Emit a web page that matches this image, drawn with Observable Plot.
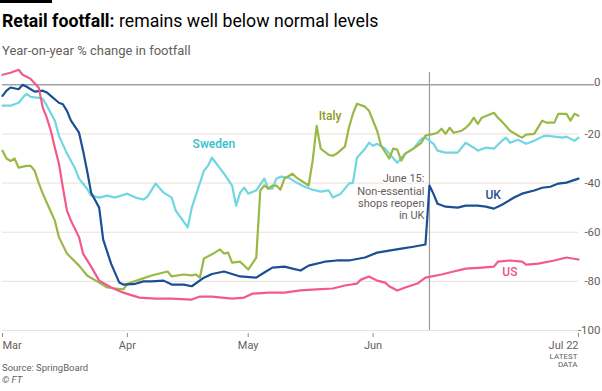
<!DOCTYPE html>
<html>
<head>
<meta charset="utf-8">
<script src="https://cdn.jsdelivr.net/npm/d3@7"></script>
<script src="https://cdn.jsdelivr.net/npm/@observablehq/plot@0.6"></script>
<style>
  html, body { margin: 0; padding: 0; background: #fff; }
  #wrap { position: relative; width: 602px; height: 391px; overflow: hidden; font-family: Roboto, "Noto Sans", sans-serif; }
  #bar { position: absolute; left: 0; top: 0; width: 52px; height: 3px; background: #000; }
  #title { position: absolute; left: 2px; top: 11px; font-size: 17.7px; line-height: 20px; color: #000; white-space: nowrap; }
  #title b { font-weight: 700; }
  #subtitle { position: absolute; left: 2px; top: 43px; font-size: 13px; line-height: 15px; color: #66605c; white-space: nowrap; }
  #chart { position: absolute; left: 0; top: 62px; }
  #caption { position: absolute; left: 2px; top: 362px; font-size: 9.5px; line-height: 12px; color: #66605c; }
  #caption i { font-style: italic; }
</style>
</head>
<body>
<div id="wrap">
  <div id="bar"></div>
  <div id="title"><b>Retail footfall:</b> remains well below normal levels</div>
  <div id="subtitle">Year-on-year % change in footfall</div>
  <div id="chart"></div>
  <div id="caption">Source: SpringBoard<br><i>© FT</i></div>
</div>
<script>
// Days counted from 1 March 2020; values are year-on-year % change in footfall
const ukDays = [0,1,2,4,5,6,7,8,10,11,12,14,15,16,17,19,20,21,22,24,25,27,29,30,33,35,37,40,42,45,47,50,52,55,57,59,63,65,67,70,72,74,76,80,83,86,90,93,96,99,102,105,106,107,108,110,113,115,118,120,122,124,127,129,132,134,136,138,140,143];
const ukValues = [-4.5,-2.4,-1.1,-1.8,0,-0.8,-1.8,-2.8,-2.4,-3.1,-4.5,-7.3,-7.9,-10.6,-14.6,-19.5,-26.8,-35,-43.9,-50,-63,-73,-80.5,-81.3,-81,-80,-80,-79.7,-81.3,-81.3,-82,-78.5,-77,-76,-77,-78,-78.5,-76.4,-74.4,-74,-74.8,-75.6,-73.6,-72,-71.5,-71.5,-70.3,-68.3,-67.5,-66.7,-65.9,-65,-41,-44.4,-48.4,-49.6,-50,-49.2,-49.2,-49.6,-50.4,-48.8,-45.9,-44.3,-43,-41.9,-41.5,-40.2,-39.8,-38.2];

const usDays = [0,1,2,4,5,6,7,9,10,11,12,13,14,15,16,17,19,20,22,24,27,30,34,38,42,47,49,52,57,60,62,66,70,74,78,82,85,88,89,91,93,95,96,98,100,103,105,109,112,115,119,122,123,126,129,130,133,137,140,143];
const usValues = [4.1,4.5,4.9,6.1,4.1,3.3,2.4,-1.2,-9.3,-13.4,-18.7,-25.6,-32,-41.9,-51.2,-55.3,-62,-68.7,-74,-79.7,-82.5,-84.6,-86.6,-87,-87,-87.4,-86.2,-86.2,-87,-86.6,-85,-84.6,-84.6,-83.7,-83.3,-82.9,-81.7,-80.9,-79.3,-78,-79.7,-80.5,-82,-83.7,-82.5,-80.9,-78.5,-77.2,-76,-74.8,-74.4,-74,-72,-71.5,-72,-73.2,-72.8,-71.5,-70.3,-71.1];

const swedenDays = [0,2,4,5,6,7,9,10,11,13,14,16,18,19,21,22,24,26,28,31,33,35,36,38,40,42,43,46,47,48,50,51,52,54,55,57,58,59,60,61,63,65,66,67,68,69,71,73,75,77,79,81,82,84,86,87,88,90,91,92,93,95,96,98,100,102,104,105,107,108,110,113,115,117,118,120,122,124,125,126,128,130,132,134,135,137,139,140,142,143];
const swedenValues = [-8.5,-8.5,-7.3,-5.3,-3.7,-4.9,-5.3,-5.7,-8.5,-14.6,-20.7,-28,-34,-38.2,-42.3,-45.1,-45.9,-45.1,-45.9,-44.3,-45.9,-46.7,-45.5,-40.2,-43.9,-45.9,-51.2,-58,-50,-45,-35,-33,-29.7,-34,-36.2,-41,-49.2,-43.9,-41.9,-44.3,-43,-38.2,-42.3,-42.3,-38.2,-37.4,-37.8,-39.8,-41.5,-42.7,-43.5,-43,-45.9,-44.3,-40.2,-39.8,-29.7,-26,-23.6,-24.8,-24,-26,-28,-31.7,-28,-26,-22,-21.5,-24,-26.8,-27.6,-27.6,-23.6,-25.6,-26.8,-25.6,-26,-22.8,-21.5,-23.6,-22.4,-24,-22.8,-21.1,-20.7,-21.1,-21.5,-21.1,-22.8,-21.5];

const italyDays = [0,1,2,3,4,6,7,8,9,10,11,13,14,16,19,21,24,26,28,30,31,34,37,39,41,42,45,47,48,49,50,52,54,55,56,57,59,61,63,64,65,66,67,68,69,70,72,73,76,77,78,79,81,82,83,85,86,87,88,90,91,93,94,96,97,98,99,100,102,104,105,107,108,109,110,111,112,114,115,116,117,118,119,122,123,124,126,128,129,130,132,134,135,137,138,140,141,142,143];
const italyValues = [-26.8,-30,-31,-30,-33.7,-33,-33,-35,-40,-44.3,-48,-55.3,-62,-68.7,-73.6,-77.6,-80.5,-82.5,-82.9,-83.3,-81,-79.3,-77.6,-76.8,-76,-78,-77.2,-77.6,-77.2,-78.5,-70.7,-69,-67,-68.7,-68.3,-72.4,-72,-75.2,-70.3,-43,-41,-42.3,-41,-41,-42.7,-38.2,-36.2,-37.8,-41,-30.9,-16.7,-26,-28.5,-28.9,-28,-25.2,-17.5,-11.8,-7.7,-8.9,-10.6,-18.7,-24.8,-30,-26,-26.4,-30.9,-28,-26,-23.6,-20.7,-20,-19.5,-17.9,-20,-17.5,-19.5,-18.7,-17.5,-15.9,-13.4,-15.9,-13.4,-11.4,-13.4,-15,-18.7,-20.7,-21.5,-20.3,-20,-14.6,-15.4,-15.4,-11.8,-11.8,-14.6,-11.8,-12.6];

const seriesNames = ["Sweden", "Italy", "UK", "US"];
const xTickDays = [0, 31, 61, 92, 143];
const xTickLabels = ["Mar", "Apr", "May", "Jun", "Jul 22"];
const yTicks = [-100, -80, -60, -40, -20];
const eventDay = 106; // 15 June
const eventText = "June 15:\nNon-essential\nshops reopen\nin UK";

const start = Date.UTC(2020, 2, 1);
const day = d => new Date(start + d * 864e5);
const build = (name, days, vals) => days.map((d, i) => ({name, date: day(d), value: vals[i]}));
const data = [
  ...build("Sweden", swedenDays, swedenValues),
  ...build("Italy", italyDays, italyValues),
  ...build("UK", ukDays, ukValues),
  ...build("US", usDays, usValues)
];

const lineColors = ["#6fd6e2", "#9ab846", "#1a4f95", "#f25a8b"];
const labelColors = {Sweden: "#33bfcb", Italy: "#8a9b24", UK: "#1f5096", US: "#ec528a"};
const labels = [
  {name: "Sweden", date: day(47.2), value: -24.3},
  {name: "Italy", date: day(78.5), value: -12.9},
  {name: "UK", date: day(119.9), value: -45},
  {name: "US", date: day(124.1), value: -76.4}
];

const grey = "#66605c";
const xt = xTickDays.map(day);

const chart = Plot.plot({
  width: 602,
  height: 308,
  marginTop: 10,
  marginBottom: 37,
  marginLeft: 2,
  marginRight: 24,
  insetBottom: 3,
  x: {type: "utc", domain: [day(0), day(143)], label: null},
  y: {domain: [-100, 5], label: null},
  color: {domain: seriesNames, range: lineColors},
  style: {fontFamily: "Roboto, 'Noto Sans', sans-serif", background: "transparent", color: grey, overflow: "visible"},
  marks: [
    Plot.ruleY(yTicks, {stroke: "#ecdfd5", strokeWidth: 1}),
    Plot.ruleY([0], {stroke: "#a3a3a3", strokeWidth: 1.5, insetRight: -16}),
    Plot.ruleX([day(eventDay)], {y1: -100, y2: 5, stroke: "#9b9b9b", strokeWidth: 1.2}),
    Plot.line(data, {x: "date", y: "value", z: "name", stroke: "name", strokeWidth: 2.2, strokeLinejoin: "round", strokeLinecap: "round"}),
    Plot.text([eventText], {x: day(eventDay), y: -36.2, text: d => d, textAnchor: "end", lineAnchor: "top", dx: -5, fontSize: 11, lineHeight: 1.12, fill: grey, stroke: "white", strokeWidth: 3, paintOrder: "stroke"}),
    Plot.text(labels, {x: "date", y: "value", text: "name", fill: d => labelColors[d.name], textAnchor: "start", lineAnchor: "middle", fontSize: 12, fontWeight: 500}),
    Plot.axisY(yTicks, {anchor: "right", label: null, tickSize: 0, tickPadding: 0, textAnchor: "end", dx: 22, tickFormat: d => String(d), fontSize: 11.5, fill: grey}),
    Plot.text([0], {y: d => d, frameAnchor: "right", textAnchor: "end", lineAnchor: "bottom", dx: 22, dy: 1, text: d => String(d), fontSize: 11.5, fill: grey}),
    Plot.axisX([xt[0]], {label: null, tickSize: 4, tickPadding: 4, textAnchor: "start", tickFormat: () => xTickLabels[0], fontSize: 11, fill: grey, stroke: "#8d8d8d"}),
    Plot.axisX(xt.slice(1, 4), {label: null, tickSize: 4, tickPadding: 4, textAnchor: "middle", tickFormat: d => xTickLabels[xt.findIndex(t => +t === +d)], fontSize: 11, fill: grey, stroke: "#8d8d8d"}),
    Plot.axisX([xt[4]], {label: null, tickSize: 4, tickPadding: 4, textAnchor: "end", tickFormat: () => xTickLabels[4], fontSize: 11, fill: grey, stroke: "#8d8d8d"}),
    Plot.text(["LATEST\nDATA"], {x: xt[4], frameAnchor: "bottom", text: d => d, textAnchor: "end", lineAnchor: "top", dy: 20, dx: -1, fontSize: 8, lineHeight: 1, fill: grey})
  ]
});
document.getElementById("chart").append(chart);
</script>
</body>
</html>
